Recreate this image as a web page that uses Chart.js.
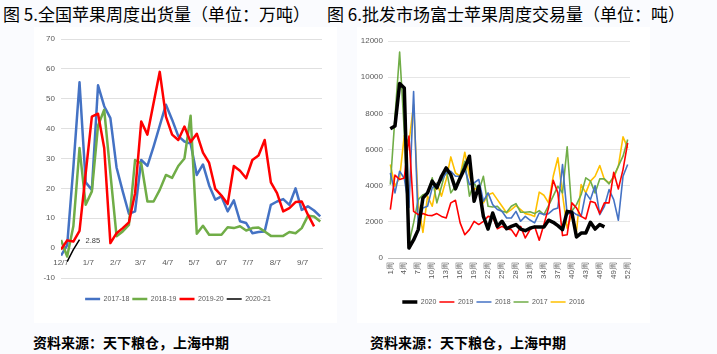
<!DOCTYPE html>
<html>
<head>
<meta charset="utf-8">
<script src="https://cdn.jsdelivr.net/npm/chart.js@4.4.1/dist/chart.umd.min.js"></script>
<style>
body { margin:0; width:717px; height:354px; background:#fafbfe; position:relative; overflow:hidden; font-family:"Noto Sans CJK SC", sans-serif; }
.title { position:absolute; top:4px; font-size:17px; line-height:20px; color:#000; white-space:pre; }
.src { position:absolute; top:333px; font-size:14px; line-height:18px; font-weight:bold; color:#000; white-space:nowrap; }
.box { position:absolute; top:27px; height:296px; background:#fff; }
canvas { display:block; }
</style>
</head>
<body>
<div class="title" style="left:3px">图 5.全国苹果周度出货量（单位：万吨）</div>
<div class="title" style="left:327px">图 6.批发市场富士苹果周度交易量（单位：吨）</div>
<div class="box" style="left:34px;width:303px"><canvas id="shipChart" width="303" height="296"></canvas></div>
<div class="box" style="left:357px;width:293px"><canvas id="tradeChart" width="293" height="296"></canvas></div>
<div class="src" style="left:33px">资料来源：天下粮仓，上海中期</div>
<div class="src" style="left:370px">资料来源：天下粮仓，上海中期</div>
<script>
// 图5: weekly shipments, starting 12/7 (one value per week)
const monthTickDays = [0, 31, 62, 90, 121, 151, 182, 212, 243, 274];
const monthTickLabels = ['12/7', '1/7', '2/7', '3/7', '4/7', '5/7', '6/7', '7/7', '8/7', '9/7'];

const ship1718 = [-2.5, 1, 27, 55.5, 22, 19.5, 54.5, 47.5, 43.5, 27, 19, 11.5, 12.3, 29.5, 27.5, 34, 41, 48, 43, 37.5,
    35.7, 35, 24.5, 28, 21, 16.2, 17.3, 12.3, 16, 9, 8.4, 5, 5.4, 5.6, 14.5, 15.6, 16.4, 14.5, 20, 12.8, 14, 12.6, 10.6];
const ship1819 = [2.7, -2.8, 7.3, 33.5, 14.5, 19, 41, 46.3, 25, 4, 5.6, 7.8, 29.5, 28.4, 15.6, 15.6, 19.5, 24.5, 23.5, 27.5,
    30, 44.3, 4.8, 7.5, 4.5, 4.5, 4.5, 7, 6.7, 7.3, 5.9, 6.7, 6.9, 5.6, 4.1, 4.1, 4.1, 5.4, 5, 6.7, 10.8, 10.6, 8.9];
const ship1920 = [-0.5, 2.6, 2.2, 5.8, 25, 44, 45, 33.5, 1.7, 5, 6.7, 8.6, 18.4, 42.4, 38, 48.6, 59, 44, 38, 36.2,
    40.7, 35.5, 38.3, 32, 28.5, 19.8, 17.6, 14.8, 27.5, 25.9, 23.4, 29.5, 31, 36.2, 22, 18.4, 12.3, 13.4, 15.4, 15.6, 11.2, 7.3];
const ship2021 = [null, -4.5, -0.5, 2.85];

// 图6: weekly trade volume, weeks 1..52
const weekLabels = ['1周','2周','3周','4周','5周','6周','7周','8周','9周','10周','11周','12周','13周',
    '14周','15周','16周','17周','18周','19周','20周','21周','22周','23周','24周','25周','26周',
    '27周','28周','29周','30周','31周','32周','33周','34周','35周','36周','37周','38周','39周',
    '40周','41周','42周','43周','44周','45周','46周','47周','48周','49周','50周','51周','52周'];
const trade2020 = [7150, 7300, 9650, 9400, 550, 1000, 1570, 3320, 3600, 4250, 3880, 4520, 4980, 4600, 3820, 4430,
    4980, 5630, 3140, 3970, 2300, 1600, 2490, 1750, 2030, 1620, 1750, 1850, 1600, 1510, 1650, 1720, 1720, 1720,
    2090, 1975, 1790, 1570, 2580, 2530, 1160, 1380, 1380, 1975, 1600, 1850, 1720];
const trade2019 = [2680, 4580, 4340, 4430, 6740, 2580, 2400, 2455, 2360, 2345, 2455, 2300, 2215, 3050, 3190, 1940,
    1290, 1570, 2030, 1850, 2030, 2300, 2270, 1620, 1750, 1600, 1570, 1200, 1750, 1110, 1550, 1750, 980, 1850,
    2770, 4300, 3600, 1240, 1290, 3050, 2770, 2300, 2160, 3140, 3050, 2455, 3050, 3050, 4740, 3820, 4890, 6370];
const trade2018 = [4700, 3600, 4800, 4400, 2800, 9200, 1750, 2770, 2860, 3880, 4120, 4300, 4700, 4800, 4520, 4520,
    4930, 4060, 4150, 4340, 3140, 3600, 2950, 2680, 2580, 2215, 2215, 2580, 2030, 2300, 2100, 1940, 2490, 2400,
    2455, 2680, 2770, 5170, 2400, 2580, 2400, 2300, 3600, 3230, 4000, 2400, 2860, 3780, 3230, 2090, 4520, 5170];
const trade2017 = [4060, 7800, 11390, 7000, 800, 1940, 3230, 3500, 3560, 4430, 3050, 3970, 4930, 3600, 3970, 4520,
    5350, 3420, 4150, 3690, 4520, 2860, 2820, 2860, 2580, 2530, 2860, 3010, 2530, 2530, 2560, 2455, 2620, 2400,
    2900, 3420, 3970, 3600, 6150, 2580, 2950, 3500, 4430, 4250, 3600, 4375, 4375, 4100, 4520, 5080, 5630, 6550];
const trade2016 = [5170, 3970, 4430, 6770, 6370, 8490, 3000, 1420, 3420, 2860, 4150, 3420, 4340, 5590, 4700, 4520,
    5850, 4520, 3780, 3970, 3050, 3500, 3600, 3230, 2860, 2490, 2680, 2900, 2680, 2455, 2400, 2300, 3640, 3470,
    3050, 4520, 5540, 3500, 1650, 2400, 1450, 4060, 3600, 4250, 4520, 5110, 4340, 4150, 4430, 5080, 6700, 6090];

const tickFont = { family: '"Liberation Sans", sans-serif', size: 8 };
const legendFont = { family: '"Liberation Sans", sans-serif', size: 7 };
const grey = '#595959';

function weekly(values){
    return values.map((v, i) => ({ x: i * 7, y: v }));
}

function lineSet(label, data, color, width, order){
    return {
        label: label,
        data: data,
        borderColor: color,
        backgroundColor: color,
        borderWidth: width,
        pointRadius: 0,
        tension: 0,
        borderJoinStyle: 'round',
        order: order
    };
}

// value label next to the last 2020-21 point
const lastValueLabel = {
    id: 'lastValueLabel',
    afterDatasetsDraw(chart){
        const meta = chart.getDatasetMeta(3);
        const i = ship2021.length - 1;
        const pt = meta.data[i];
        const ctx = chart.ctx;
        ctx.save();
        ctx.font = '7.5px "Liberation Sans"';
        ctx.fillStyle = '#404040';
        ctx.textBaseline = 'middle';
        ctx.fillText(String(ship2021[i]), pt.x + 6, pt.y + 1.5);
        ctx.restore();
    }
};

function legendOptions(gap){
    return {
        position: 'bottom',
        title: { display: true, text: '', font: { size: 1 }, padding: { top: gap, bottom: 0 } },
        labels: {
            usePointStyle: true,
            pointStyle: 'line',
            pointStyleWidth: 15,
            padding: 3,
            color: grey,
            font: legendFont,
            sort: (a, b) => a.datasetIndex - b.datasetIndex
        }
    };
}

new Chart(document.getElementById('shipChart'), {
    type: 'line',
    data: {
        datasets: [
            lineSet('2017-18', weekly(ship1718), '#4472C4', 2.5, 3),
            lineSet('2018-19', weekly(ship1819), '#70AD47', 2.5, 2),
            lineSet('2019-20', weekly(ship1920), '#FF0000', 2.5, 1),
            lineSet('2020-21', weekly(ship2021), '#000000', 1.5, 0)
        ]
    },
    plugins: [lastValueLabel],
    options: {
        responsive: false,
        animation: false,
        layout: { padding: { top: 12, right: 15, bottom: 10.5, left: 0 } },
        plugins: { legend: legendOptions(13.3), tooltip: { enabled: false } },
        scales: {
            x: {
                type: 'linear',
                position: { y: 0 },
                min: 0,
                max: 296,
                afterBuildTicks: (scale) => { scale.ticks = monthTickDays.map(v => ({ value: v })); },
                ticks: {
                    callback: (v) => monthTickLabels[monthTickDays.indexOf(v)],
                    color: grey, font: tickFont, padding: 10, maxRotation: 0
                },
                grid: { display: false, drawTicks: false },
                border: { display: true, color: '#d9d9d9' }
            },
            y: {
                min: -10,
                max: 70,
                ticks: { stepSize: 10, autoSkip: false, color: grey, font: tickFont, padding: 6 },
                grid: { color: '#e0e0e0', drawTicks: false },
                border: { display: false },
                afterFit: (scale) => { scale.width = 27; }
            }
        }
    }
});

new Chart(document.getElementById('tradeChart'), {
    type: 'line',
    data: {
        labels: weekLabels,
        datasets: [
            lineSet('2020', trade2020, '#000000', 3.5, 0),
            lineSet('2019', trade2019, '#FF0000', 1.6, 1),
            lineSet('2018', trade2018, '#4472C4', 1.6, 2),
            lineSet('2017', trade2017, '#70AD47', 1.6, 3),
            lineSet('2016', trade2016, '#FFC000', 1.6, 4)
        ]
    },
    options: {
        responsive: false,
        animation: false,
        layout: { padding: { top: 14, right: 20, bottom: 7.5, left: 0 } },
        plugins: { legend: legendOptions(6.3), tooltip: { enabled: false } },
        scales: {
            x: {
                offset: true,
                ticks: {
                    autoSkip: false,
                    maxRotation: 90,
                    minRotation: 90,
                    callback: (v, i) => (i % 3 === 0 ? weekLabels[i] : null),
                    color: grey, font: tickFont, padding: 4
                },
                grid: { display: false, drawTicks: false },
                border: { display: true, color: '#bfbfbf' },
                afterFit: (scale) => { scale.height = 30; }
            },
            y: {
                min: 0,
                max: 12000,
                ticks: { stepSize: 2000, autoSkip: false, callback: (v) => String(v), color: grey, font: tickFont, padding: 5 },
                grid: { color: '#e6e6e6', drawTicks: false },
                border: { display: false },
                afterFit: (scale) => { scale.width = 31; }
            }
        }
    }
});
</script>
</body>
</html>
